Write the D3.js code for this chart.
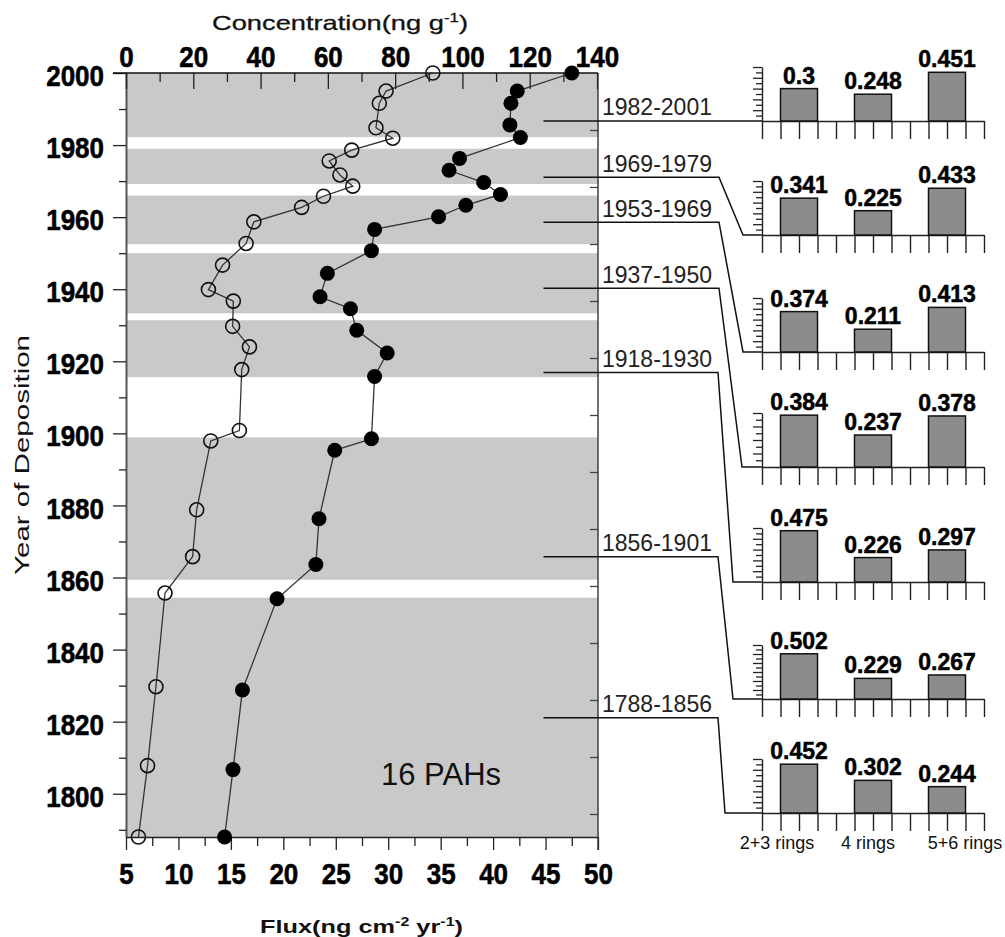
<!DOCTYPE html>
<html>
<head>
<meta charset="utf-8">
<script src="https://cdn.jsdelivr.net/npm/d3@7"></script>
<style>
  html, body { margin: 0; padding: 0; background: #fff; }
  svg { display: block; font-family: "Liberation Sans", Arial, sans-serif; }
</style>
</head>
<body>
<svg id="chart" width="1005" height="937"></svg>
<script>
// ---------------- DATA ----------------
// Open circles: concentration (ng g-1), top axis
const concYears  = [2000, 1995, 1991.6, 1984.8, 1981.9, 1978.6, 1975.6, 1971.7, 1968.6, 1965.8, 1962.7, 1958.7, 1952.7, 1946.7, 1939.9, 1936.7, 1929.7, 1924, 1917.7, 1900.8, 1897.9, 1878.8, 1865.8, 1855.7, 1829.7, 1807.8, 1788];
const concValues = [91.2, 77.3, 75.3, 74.3, 79.3, 67.1, 60.4, 63.6, 67.4, 58.7, 52.2, 38.0, 35.7, 28.7, 24.5, 31.9, 31.7, 36.7, 34.4, 33.7, 25.2, 21.0, 19.8, 11.6, 8.9, 6.4, 3.7];
// Filled circles: flux (ng cm-2 yr-1), bottom axis
const fluxYears  = [2000, 1995, 1991.6, 1985.6, 1982.1, 1976.3, 1973, 1969.6, 1966.3, 1963.3, 1960.1, 1956.6, 1950.7, 1944.4, 1937.9, 1934.6, 1928.6, 1922.3, 1915.8, 1898.5, 1895.3, 1876.3, 1863.6, 1854.1, 1828.8, 1806.7, 1788];
const fluxValues = [47.5, 42.3, 41.7, 41.6, 42.6, 36.8, 35.8, 39.1, 40.7, 37.4, 34.8, 28.7, 28.4, 24.2, 23.5, 26.4, 27.0, 29.9, 28.7, 28.4, 24.9, 23.4, 23.1, 19.4, 16.1, 15.2, 14.4];
// White gaps between shaded periods (years)
const gapStart = [1979, 1966, 1950, 1931.4, 1898.9, 1854.4];
const gapEnd   = [1982.2, 1969.2, 1952.5, 1933.3, 1915.6, 1859.4];

// Ring composition per period
const periods        = ["1982-2001", "1969-1979", "1953-1969", "1937-1950", "1918-1930", "1856-1901", "1788-1856"];
const periodLeaderYr = [1986.7, 1971.1, 1958.6, 1940.3, 1916.9, 1865.8, 1821.1];
const ringCategories = ["2+3 rings", "4 rings", "5+6 rings"];
const ring23 = [0.3, 0.341, 0.374, 0.384, 0.475, 0.502, 0.452];
const ring4  = [0.248, 0.225, 0.211, 0.237, 0.226, 0.229, 0.302];
const ring56 = [0.451, 0.433, 0.413, 0.378, 0.297, 0.267, 0.244];
const ringAxisMax = [0.5, 0.5, 0.5, 0.4, 0.5, 0.6, 0.5];

// Tick labels
const yearTicks = d3.range(1800, 2001, 20);
const yearMinor = d3.range(1790, 2000, 20);
const concTicks = d3.range(0, 141, 20);
const concMinor = d3.range(10, 140, 20);
const fluxTicks = d3.range(5, 51, 5);
const fluxMinor = d3.range(7.5, 50, 5);
const depthTicks = d3.range(2, 27, 2);

// ---------------- LAYOUT ----------------
const P = { left: 126, right: 598, top: 73, bottom: 837 };
const BOLD = "bold";
const numSize = 26, numStretch = 1.15;
const chartBase = [121, 235, 352, 467, 582, 699, 813];
const chartH = 54;
const leaderBendX = [719, 719, 719, 719, 718, 718, 718];
const leaderEndX  = [762, 743, 743, 742, 733, 733, 725];
const catLabelSlot = [0.81, 5.73, 10.97];

const svg = d3.select("#chart");

const y = d3.scaleLinear().domain([1788, 2000]).range([P.bottom, P.top]);
const xConc = d3.scaleLinear().domain([0, 140]).range([P.left, 597]);
const xFlux = d3.scaleLinear().domain([5, 50]).range([P.left, P.right]);
const depth = d3.scaleLinear().domain([0, 26.8]).range([P.top, P.top + 26.8 * 28.5]);

// background shading
svg.append("rect").attr("x", P.left).attr("y", P.top)
  .attr("width", P.right - P.left).attr("height", P.bottom - P.top)
  .attr("fill", "#c9c9c9");
svg.selectAll("rect.gap").data(gapStart).join("rect").attr("class", "gap")
  .attr("x", P.left).attr("width", P.right - P.left)
  .attr("y", (d, i) => y(gapEnd[i]))
  .attr("height", (d, i) => y(gapStart[i]) - y(gapEnd[i]))
  .attr("fill", "#fff");

function styleNums(g, tx) {
  g.selectAll("text").attr("font-size", numSize).attr("font-weight", BOLD)
    .attr("fill", "#000").attr("stroke", "#000").attr("stroke-width", 0.5)
    .attr("font-family", "Liberation Sans, Arial, sans-serif");
  if (tx) g.selectAll("text").attr("transform", tx);
}

// left axis (years)
const gL = svg.append("g").attr("transform", `translate(${P.left},0)`)
  .call(d3.axisLeft(y).tickValues(yearTicks).tickSize(13).tickSizeOuter(0).tickPadding(9).tickFormat(d3.format("d")));
gL.select(".domain").attr("stroke", "#555").attr("stroke-width", 2);
gL.selectAll(".tick line").attr("stroke", "#222").attr("stroke-width", 1.3);
styleNums(gL, `scale(1,${numStretch})`);
gL.selectAll("text").attr("dy", "0.42em");
const gLm = svg.append("g").attr("transform", `translate(${P.left},0)`)
  .call(d3.axisLeft(y).tickValues(yearMinor).tickSize(7).tickFormat(""));
gLm.select(".domain").remove();
gLm.selectAll(".tick line").attr("stroke", "#222").attr("stroke-width", 1.3);

// top axis (concentration), ticks inward
const gT = svg.append("g").attr("transform", `translate(0,${P.top})`)
  .call(d3.axisTop(xConc).tickValues(concTicks).tickSize(-16).tickSizeOuter(0).tickPadding(5));
gT.select(".domain").remove();
gT.selectAll(".tick line").attr("stroke", "#222").attr("stroke-width", 1.3);
styleNums(gT, `scale(1,${numStretch})`);
const gTm = svg.append("g").attr("transform", `translate(0,${P.top})`)
  .call(d3.axisTop(xConc).tickValues(concMinor).tickSize(-9).tickFormat(""));
gTm.select(".domain").remove();
gTm.selectAll(".tick line").attr("stroke", "#222").attr("stroke-width", 1.3);
svg.append("line").attr("x1", P.left - 13).attr("x2", P.right).attr("y1", P.top).attr("y2", P.top)
  .attr("stroke", "#111").attr("stroke-width", 1.6);

// bottom axis (flux), ticks outward
const gB = svg.append("g").attr("transform", `translate(0,${P.bottom})`)
  .call(d3.axisBottom(xFlux).tickValues(fluxTicks).tickSize(13).tickSizeOuter(0).tickPadding(12));
gB.select(".domain").attr("stroke", "#222").attr("stroke-width", 1.4);
gB.selectAll(".tick line").attr("stroke", "#222").attr("stroke-width", 1.3);
styleNums(gB, `scale(1,${numStretch})`);
gB.selectAll("text").attr("y", 22).attr("dy", "0.71em");
const gBm = svg.append("g").attr("transform", `translate(0,${P.bottom})`)
  .call(d3.axisBottom(xFlux).tickValues(fluxMinor).tickSize(9).tickFormat(""));
gBm.select(".domain").remove();
gBm.selectAll(".tick line").attr("stroke", "#222").attr("stroke-width", 1.3);

// right axis (unlabelled depth), ticks inward
const gR = svg.append("g").attr("transform", `translate(${P.right},0)`)
  .call(d3.axisLeft(depth).tickValues(depthTicks).tickSize(8).tickFormat(""));
gR.select(".domain").remove();
gR.selectAll(".tick line").attr("stroke", "#444").attr("stroke-width", 1.3);
svg.append("line").attr("x1", P.right).attr("x2", P.right).attr("y1", P.top).attr("y2", P.bottom + 13)
  .attr("stroke", "#333").attr("stroke-width", 1.4);

// series
const concData = concYears.map((yr, i) => ({ yr, v: concValues[i] }));
const fluxData = fluxYears.map((yr, i) => ({ yr, v: fluxValues[i] }));
svg.append("path").datum(concData)
  .attr("d", d3.line().x(d => xConc(d.v)).y(d => y(d.yr)))
  .attr("fill", "none").attr("stroke", "#333").attr("stroke-width", 1.3);
svg.append("path").datum(fluxData)
  .attr("d", d3.line().x(d => xFlux(d.v)).y(d => y(d.yr)))
  .attr("fill", "none").attr("stroke", "#333").attr("stroke-width", 1.3);
svg.selectAll("circle.conc").data(concData).join("circle").attr("class", "conc")
  .attr("cx", d => xConc(d.v)).attr("cy", d => y(d.yr)).attr("r", 7)
  .attr("fill", "none").attr("stroke", "#111").attr("stroke-width", 1.6);
svg.selectAll("circle.flux").data(fluxData).join("circle").attr("class", "flux")
  .attr("cx", d => xFlux(d.v)).attr("cy", d => y(d.yr)).attr("r", 7.5)
  .attr("fill", "#000");

// 16 PAHs label
svg.append("text").attr("x", 381).attr("y", 785).attr("font-size", 31).attr("fill", "#111").text("16 PAHs");

// axis titles
const tTop = svg.append("text").attr("x", 340).attr("y", 30).attr("text-anchor", "middle")
  .attr("font-size", 21).attr("fill", "#111").attr("stroke", "#111").attr("stroke-width", 0.3)
  .attr("textLength", 256).attr("lengthAdjust", "spacingAndGlyphs");
tTop.append("tspan").text("Concentration(ng g");
tTop.append("tspan").attr("dy", -8).attr("font-size", 13).text("-1");
tTop.append("tspan").attr("dy", 8).text(")");

const tBot = svg.append("text").attr("x", 260).attr("y", 933)
  .attr("font-size", 19).attr("font-weight", BOLD).attr("fill", "#111")
  .attr("textLength", 203).attr("lengthAdjust", "spacingAndGlyphs");
tBot.append("tspan").text("Flux(ng cm");
tBot.append("tspan").attr("dy", -7).attr("font-size", 12).text("-2");
tBot.append("tspan").attr("dy", 7).text(" yr");
tBot.append("tspan").attr("dy", -7).attr("font-size", 12).text("-1");
tBot.append("tspan").attr("dy", 7).text(")");

svg.append("text").attr("transform", "translate(29,455) rotate(-90)").attr("text-anchor", "middle")
  .attr("font-size", 21).attr("fill", "#111").attr("textLength", 240).attr("lengthAdjust", "spacingAndGlyphs")
  .text("Year of Deposition");

// ---------------- period bar charts ----------------
const barX = d3.scaleLinear().domain([0, 12]).range([762, 984]);
const leaderStartX = xFlux(44.8);
periods.forEach((p, i) => {
  const base = chartBase[i];
  const ly = y(periodLeaderYr[i]);
  // leader line
  const path = d3.path();
  path.moveTo(leaderStartX, ly);
  if (Math.abs(ly - base) < 1) {
    path.lineTo(barX(0), base);
  } else {
    path.lineTo(leaderBendX[i], ly);
    path.lineTo(leaderEndX[i], base);
    path.lineTo(barX(0), base);
  }
  svg.append("path").attr("d", path.toString()).attr("fill", "none")
    .attr("stroke", "#111").attr("stroke-width", 1.5);
  svg.append("text").attr("x", 602).attr("y", ly - 5.5).attr("font-size", 23).attr("fill", "#222").text(p);

  const yS = d3.scaleLinear().domain([0, ringAxisMax[i]]).range([base, base - chartH]);
  const major = d3.range(0.1, ringAxisMax[i] + 0.001, 0.1);
  const minor = d3.range(0.05, ringAxisMax[i], 0.1);
  const ga = svg.append("g").attr("transform", `translate(${barX(0)},0)`)
    .call(d3.axisLeft(yS).tickValues(major).tickSize(9).tickSizeOuter(0).tickFormat(""));
  ga.select(".domain").attr("stroke", "#222").attr("stroke-width", 1.4);
  ga.selectAll(".tick line").attr("stroke", "#222").attr("stroke-width", 1.3);
  const gam = svg.append("g").attr("transform", `translate(${barX(0)},0)`)
    .call(d3.axisLeft(yS).tickValues(minor).tickSize(6).tickFormat(""));
  gam.select(".domain").remove();
  gam.selectAll(".tick line").attr("stroke", "#222").attr("stroke-width", 1.3);

  const gx = svg.append("g").attr("transform", `translate(0,${base})`)
    .call(d3.axisBottom(barX).tickValues(d3.range(0, 13)).tickSize(18).tickSizeOuter(0).tickFormat(""));
  gx.select(".domain").attr("stroke", "#222").attr("stroke-width", 1.4);
  gx.selectAll(".tick line").attr("stroke", "#222").attr("stroke-width", 1.4);

  const vals = [ring23[i], ring4[i], ring56[i]];
  vals.forEach((v, j) => {
    svg.append("rect").attr("x", barX(1 + 4 * j)).attr("width", barX(3) - barX(1))
      .attr("y", yS(v)).attr("height", base - yS(v))
      .attr("fill", "#8c8c8c").attr("stroke", "#111").attr("stroke-width", 1.5);
    svg.append("text").attr("x", barX(2 + 4 * j)).attr("y", yS(v) - 5)
      .attr("text-anchor", "middle").attr("font-size", 23).attr("font-weight", BOLD)
      .attr("fill", "#000").attr("stroke", "#000").attr("stroke-width", 0.5).text(String(v));
  });
});
// category labels
ringCategories.forEach((c, j) => {
  svg.append("text").attr("x", barX(catLabelSlot[j])).attr("y", 849)
    .attr("text-anchor", "middle").attr("font-size", 18).attr("fill", "#111").text(c);
});
</script>
</body>
</html>
